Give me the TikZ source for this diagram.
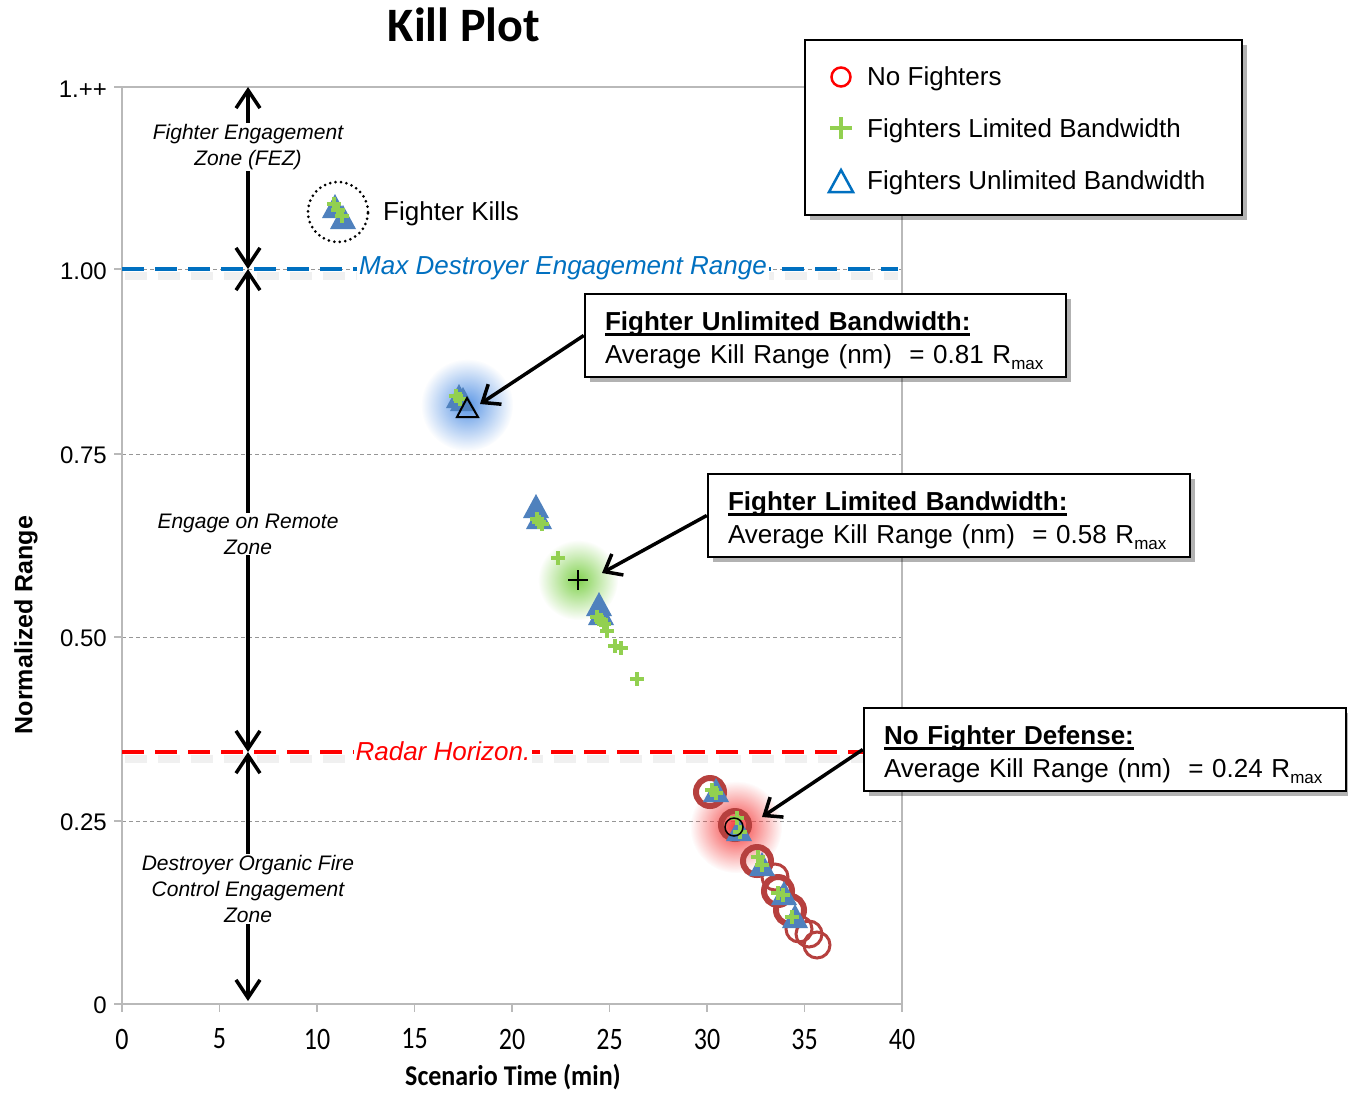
\documentclass[tikz,border=0pt]{standalone}
\usepackage{fontspec}
\setmainfont{Liberation Sans}
\newfontfamily\calfont{Carlito}
\usetikzlibrary{shadows,arrows.meta,fadings}
\definecolor{mblue}{RGB}{79,129,189}
\definecolor{lgblue}{RGB}{0,112,192}
\definecolor{mgreen}{RGB}{146,208,80}
\definecolor{mred}{RGB}{182,64,62}
\definecolor{gridgray}{RGB}{150,150,150}
\definecolor{axisgray}{RGB}{185,185,185}
\definecolor{glowblue}{RGB}{90,150,230}
\definecolor{glowgreen}{RGB}{130,210,80}
\definecolor{glowred}{RGB}{245,60,60}
\tikzfading[name=glowfade, inner color=transparent!0, outer color=transparent!100]
\newcommand\ubf[1]{\setbox0=\hbox{\bfseries #1}\rlap{\rule[-5pt]{\wd0}{2.5pt}}\box0}
\newcommand\Rmax{R\raisebox{-6pt}{\fontsize{17}{17}\selectfont max}}
\tikzset{
  gridline/.style={gridgray, line width=1pt, dash pattern=on 4pt off 3pt},
  axisline/.style={axisgray, line width=1.6pt},
  ticklab/.style={font=\fontsize{24}{24}\selectfont, anchor=east, inner sep=0pt},
  xlab/.style={font=\calfont\fontsize{26}{26}\selectfont, inner sep=0pt},
  zonearrow/.style={black, line width=3.5pt, {Straight Barb[length=18pt,width=24pt,line width=3.5pt]}-{Straight Barb[length=18pt,width=24pt,line width=3.5pt]}},
  zonetext/.style={fill=white, align=center, inner sep=1pt, font=\itshape\fontsize{21}{26}\selectfont},
  refline/.style={line width=4pt, dash pattern=on 22pt off 11pt},
  refshadow/.style={black, opacity=0.06, line width=8pt, dash pattern=on 22pt off 11pt},
  reftext/.style={fill=white, inner xsep=2pt, inner ysep=3pt, font=\itshape\fontsize{26}{26}\selectfont},
  callout/.style={draw=black, fill=white, line width=2.5pt, align=left, inner xsep=20pt,
    font=\fontsize{26}{33}\selectfont, drop shadow={shadow xshift=5pt, shadow yshift=-5pt, opacity=0.3, fill=black}},
  calloutarrow/.style={black, line width=3.5pt, -{Straight Barb[length=15pt,width=24pt,line width=3.5pt]}},
  legtext/.style={anchor=west, inner sep=0pt, font=\fontsize{26}{26}\selectfont},
  mtri/.pic={\fill[mblue] (-13,10) -- (0,-14) -- (13,10) -- cycle;},
  mplus/.pic={\draw[mgreen, line width=3.5pt] (-7,0) -- (7,0) (0,-7) -- (0,7);},
  mring/.pic={\draw[mred, line width=3pt] (0,0) circle (13);},
  mringthick/.pic={\draw[mred, line width=6pt] (0,0) circle (14);},
}
\begin{document}
\begin{tikzpicture}[x=1pt,y=-1pt]
\useasboundingbox[fill=white] (0,0) rectangle (1348,1093);

% title
\node[font=\calfont\bfseries\fontsize{48}{48}\selectfont] (title) at (464,25) {Kill Plot};

% grid lines
\foreach \yy in {269,454,637,821} \draw[gridline] (122,\yy) -- (902,\yy);
% plot frame
\draw[axisline] (114,87) -- (902,87) -- (902,1004);
\draw[axisline] (122,87) -- (122,1004) -- (902,1004);
\foreach \yy in {87,269,454,637,821,1004} \draw[axisline] (114,\yy) -- (122,\yy);
\foreach \k in {0,...,8} \draw[axisline] (122+97.5*\k,1004) -- (122+97.5*\k,1012);

% y tick labels
\node[ticklab] (y0) at (107,1005) {0};
\node[ticklab] (y1) at (107,822) {0.25};
\node[ticklab] (y2) at (107,638) {0.50};
\node[ticklab] (y3) at (107,455) {0.75};
\node[ticklab] (y4) at (107,271) {1.00};
\node[ticklab] (y5) at (107,89) {1.++};
% x tick labels
\foreach \k/\lab in {0/0,1/5,2/10,3/15,4/20,5/25,6/30,7/35,8/40}
  \node[xlab] (xl\k) at (122+97.5*\k,1039) {\scalebox{1}[1.2]{\lab}};

% axis titles
\node[font=\calfont\bfseries\fontsize{26}{26}\selectfont] (xtitle) at (513,1077) {\scalebox{1}[1.1]{Scenario Time (min)}};
\node[font=\bfseries\fontsize{25}{25}\selectfont, rotate=90] (ytitle) at (26,625) {Normalized Range};

% glows
\fill[glowblue, path fading=glowfade] (467,405) circle (46);
\fill[glowgreen, path fading=glowfade] (578,580) circle (40);
\fill[glowred, path fading=glowfade] (736,827) circle (46);

% No fighters (rings)
\pic at (710,792) {mringthick};
\pic at (735,825) {mringthick};
\pic at (757,861) {mringthick};
\pic at (775,877) {mring};
\pic at (778,891) {mringthick};
\pic at (790,910) {mringthick};
\pic at (799,929) {mring};
\pic at (809,934) {mring};
\pic at (817,945) {mring};

% Fighters unlimited bandwidth (triangles)
\pic at (335,208) {mtri};
\pic at (343,219) {mtri};
\pic at (459,398) {mtri};
\pic at (463,401) {mtri};
\pic at (536,508) {mtri};
\pic at (539,519) {mtri};
\pic at (599,606) {mtri};
\pic at (601,615) {mtri};
\pic at (716,792) {mtri};
\pic at (739,831) {mtri};
\pic at (762,866) {mtri};
\pic at (784,895) {mtri};
\pic at (795,918) {mtri};

% Fighters limited bandwidth (plus)
\foreach \px/\py in {334/204,338/210,342/216,456/396,460/399,537/519,542/524,539/522,558/558,
  597/617,601/620,604/624,607/631,615/646,621/648,637/679,712/790,716/793,737/818,740/832,
  758/857,762/865,778/893,783/895,792/917}
  \pic at (\px,\py) {mplus};

% averages
\draw[black, line width=2pt] (457,417) -- (467,398) -- (478,417) -- cycle;
\draw[black, line width=2.2pt] (568,580) -- (588,580) (578,570) -- (578,590);
\draw[black, line width=1.5pt] (734,827) circle (9);

% fighter kills
\node[circle, draw=black, line width=3pt, dash pattern=on 0pt off 5.5pt, line cap=round, minimum size=60pt, inner sep=0pt] (fkc) at (338,212) {};
\node[legtext] (fk) at (383,214) {Fighter Kills};

% reference lines
\draw[refshadow] (125,276) -- (898,276);
\draw[refline, lgblue] (122,269) -- (898,269);
\node[reftext, text=lgblue] (maxtxt) at (563,268) {Max Destroyer Engagement Range};
\draw[refshadow] (125,759) -- (866,759);
\draw[refline, red] (122,752) -- (866,752);
\node[reftext, text=red] (radtxt) at (443,751) {Radar Horizon.};

% zone double arrows
\coordinate (ztop) at (248,87);
\coordinate (zmax) at (248,269);
\coordinate (zrad) at (248,752);
\coordinate (zbot) at (248,1001);
\draw[zonearrow] (zmax) -- (ztop);
\draw[zonearrow] (zmax) -- (zrad);
\draw[zonearrow] (zrad) -- (zbot);
\node[zonetext] (fez) at (248,147) {Fighter Engagement\\Zone (FEZ)};
\node[zonetext] (eor) at (248,534) {Engage on Remote\\Zone};
\node[zonetext] (dof) at (248,889) {Destroyer Organic Fire\\Control Engagement\\Zone};

% callouts
\node[callout, minimum width=481pt, minimum height=83pt, text width=441pt] (cb1) at (825.5,335.5)
  {\rule{0pt}{30pt}\ubf{Fighter Unlimited Bandwidth:}\\Average Kill Range (nm)\ \ = 0.81 \Rmax};
\node[callout, minimum width=482pt, minimum height=83pt, text width=442pt] (cb2) at (949,515.5)
  {\rule{0pt}{30pt}\ubf{Fighter Limited Bandwidth:}\\Average Kill Range (nm)\ \ = 0.58 \Rmax};
\node[callout, minimum width=482pt, minimum height=83pt, text width=442pt] (cb3) at (1105,749.5)
  {\rule{0pt}{30pt}\ubf{No Fighter Defense:}\\Average Kill Range (nm)\ \ = 0.24 \Rmax};
\coordinate (t1) at (480,404);
\coordinate (t2) at (602,573);
\coordinate (t3) at (762,817);
\draw[calloutarrow] (cb1.west) -- (t1);
\draw[calloutarrow] (cb2.west) -- (t2);
\draw[calloutarrow] (cb3.west) -- (t3);

% legend
\node[draw=black, fill=white, line width=2.5pt, minimum width=437pt, minimum height=175pt,
  drop shadow={shadow xshift=5pt, shadow yshift=-5pt, opacity=0.3, fill=black}] (legend) at (1023.5,127.5) {};
\draw[red, line width=2.5pt] (841,77) circle (9.5);
\draw[mgreen, line width=3.5pt] (830,128) -- (852,128) (841,117) -- (841,139);
\draw[lgblue, line width=2.5pt] (829,192) -- (841,170) -- (853,192) -- cycle;
\node[legtext] (lg1) at (867,79) {No Fighters};
\node[legtext] (lg2) at (867,131) {Fighters Limited Bandwidth};
\node[legtext] (lg3) at (867,183) {Fighters Unlimited Bandwidth};
\end{tikzpicture}
\end{document}
